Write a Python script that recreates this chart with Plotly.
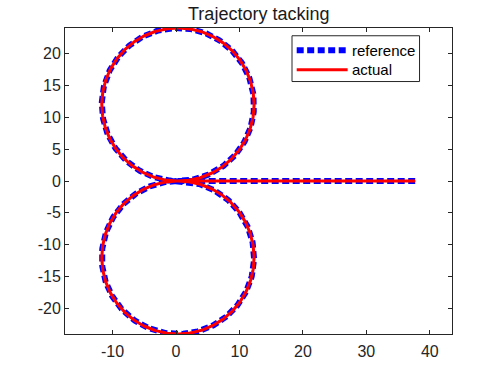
import numpy as np
import plotly.graph_objects as go

# values
line_x = [37.7, 0.3]          # straight approach segment along y=0
line_y = [0.0, 0.0]
circle_cx = [0.3, 0.3]        # upper and lower loop centres
circle_cy = [12.0, -12.0]
circle_r = [12.0, 12.0]
series_names = ["reference", "actual"]
x_ticks = [-10, 0, 10, 20, 30, 40]
y_ticks = [-20, -15, -10, -5, 0, 5, 10, 15, 20]
x_range = [-17.5, 43.5]
y_range = [-24, 24]

# build the path: straight segment, then upper loop, then lower loop
px = list(line_x)
py = list(line_y)
th = np.linspace(0, 2 * np.pi, 361)
ux = circle_cx[0] + circle_r[0] * np.sin(th)
uy = circle_cy[0] - circle_r[0] * np.cos(th)
lx = circle_cx[1] + circle_r[1] * np.sin(th)
ly = circle_cy[1] + circle_r[1] * np.cos(th)
px += list(ux) + list(lx)
py += list(uy) + list(ly)

font = "Liberation Sans, Arial, sans-serif"
W, H = 500, 375
L, R, T, B = 65, 47.5, 28.25, 41.25
PW, PH = W - L - R, H - T - B


def xp(pix):
    return (pix - L) / PW


def yp(pix):
    return (H - B - pix) / PH


styles = [dict(color="#0000FF", width=6, dash="7px,3.5px"),
          dict(color="#FF0000", width=3)]

fig = go.Figure()
for name, st in zip(series_names, styles):
    fig.add_trace(go.Scatter(x=px, y=py, mode="lines", name=name, line=st,
                             showlegend=False))

# legend box drawn like MATLAB's
shapes = [dict(type="rect", xref="paper", yref="paper",
               x0=xp(292.3), x1=xp(420), y0=yp(81.7), y1=yp(36),
               line=dict(color="#262626", width=1), fillcolor="white", layer="above")]
annotations = []
row_y = [50.5, 70]
for name, st, ry in zip(series_names, styles, row_y):
    shapes.append(dict(type="line", xref="paper", yref="paper",
                       x0=xp(297), x1=xp(348), y0=yp(ry), y1=yp(ry),
                       line=st, layer="above"))
    annotations.append(dict(text=name, xref="paper", yref="paper", x=xp(350),
                            y=yp(ry), xanchor="left", yanchor="middle", showarrow=False,
                            font=dict(family=font, size=15, color="black")))

axis_common = dict(showgrid=False, zeroline=False, showline=True, mirror="ticks",
                   linecolor="#262626", linewidth=1, ticks="inside", ticklen=4,
                   tickcolor="#262626", tickfont=dict(family=font, size=16, color="#262626"))
fig.update_xaxes(range=x_range, tickvals=x_ticks, ticktext=[str(v) for v in x_ticks],
                 ticklabelstandoff=3, **axis_common)
fig.update_yaxes(range=y_range, tickvals=y_ticks, ticktext=[str(v) for v in y_ticks],
                 **axis_common)

fig.update_layout(
    width=W, height=H,
    margin=dict(l=L, r=R, t=T, b=B),
    paper_bgcolor="white", plot_bgcolor="white",
    title=dict(text="Trajectory tacking", x=0.5175, xanchor="center",
               yref="container", y=1 - 7.5 / 375, yanchor="top",
               font=dict(family=font, size=18, color="#1a1a1a")),
    shapes=shapes, annotations=annotations,
    showlegend=False,
)

fig.write_html("out.html", config={"displayModeBar": False},
               post_script="document.body.style.margin='0';")
